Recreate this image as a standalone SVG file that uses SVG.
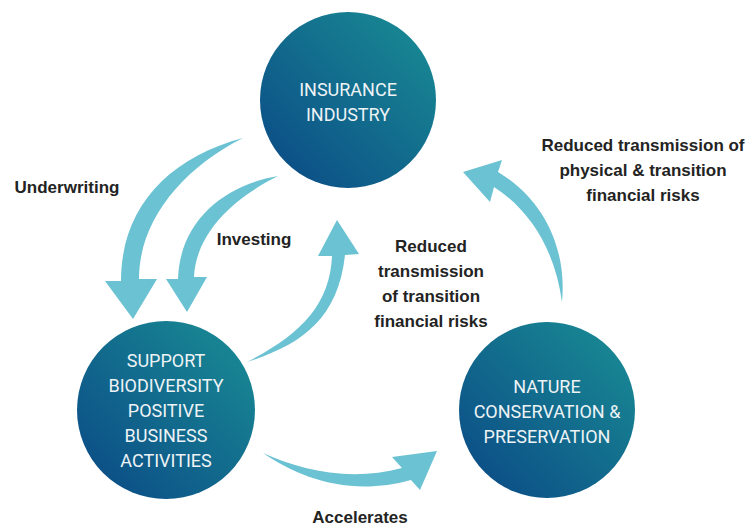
<svg xmlns="http://www.w3.org/2000/svg" width="747" height="528" viewBox="0 0 747 528">
<defs>
<linearGradient id="g" x1="1" y1="0" x2="0" y2="1">
<stop offset="0" stop-color="#1a8f95"/>
<stop offset="1" stop-color="#0a4785"/>
</linearGradient>
<style>
.c{fill:url(#g)}
.t{font-family:Roboto,"Liberation Sans",sans-serif;font-size:18px;fill:#eef3f6;text-anchor:middle}
.l{font-family:"Liberation Sans",Arial,sans-serif;font-size:17px;font-weight:bold;fill:#232323;text-anchor:middle}
.a{fill:#6bc2d3}
</style>
</defs>
<rect width="747" height="528" fill="#ffffff"/>
<g id="connectors">
<path class="a" d="M243,138 C168,158 121,208 121,281 L105,281 L133,319 L157,279 L139,279 C139,222 180,170 243,138 Z"/>
<path class="a" d="M278,176 C225,185 180,220 178,279 L166,279 L187,312 L207,277 L194,277 C196,235 230,200 278,176 Z"/>
<path class="a" d="M247,362 C300,345 338,320 345,255 L359,254 L337,220 L318,256 L332,256 C330,305 300,335 247,362 Z"/>
<path class="a" d="M263,453 C300,478 350,497 411,480 L420,490 L437,451 L392,457 L402,468 C350,482 300,470 263,453 Z"/>
<path class="a" d="M562,302 C567,250 545,200 498,172 L502,160 L463,172 L490,202 L494,187 C530,210 555,250 562,302 Z"/>
</g>
<g id="labels">
<text class="l" x="67" y="193">Underwriting</text>
<text class="l" x="254" y="245">Investing</text>
<text class="l" x="431" y="252">Reduced</text>
<text class="l" x="431" y="277">transmission</text>
<text class="l" x="431" y="302">of transition</text>
<text class="l" x="431" y="327">financial risks</text>
<text class="l" x="643" y="151">Reduced transmission of</text>
<text class="l" x="643" y="176">physical &amp; transition</text>
<text class="l" x="643" y="201">financial risks</text>
<text class="l" x="360" y="523">Accelerates</text>
</g>
<g id="insurance">
<circle class="c" cx="348" cy="100" r="88"/>
<text class="t" x="348" y="96">INSURANCE</text>
<text class="t" x="348" y="121">INDUSTRY</text>
</g>
<g id="support">
<circle class="c" cx="166" cy="410" r="89"/>
<text class="t" x="166" y="367">SUPPORT</text>
<text class="t" x="166" y="392">BIODIVERSITY</text>
<text class="t" x="166" y="417">POSITIVE</text>
<text class="t" x="166" y="442">BUSINESS</text>
<text class="t" x="166" y="467">ACTIVITIES</text>
</g>
<g id="nature">
<circle class="c" cx="547" cy="410" r="88"/>
<text class="t" x="547" y="393">NATURE</text>
<text class="t" x="547" y="418">CONSERVATION &amp;</text>
<text class="t" x="547" y="443">PRESERVATION</text>
</g>
</svg>
